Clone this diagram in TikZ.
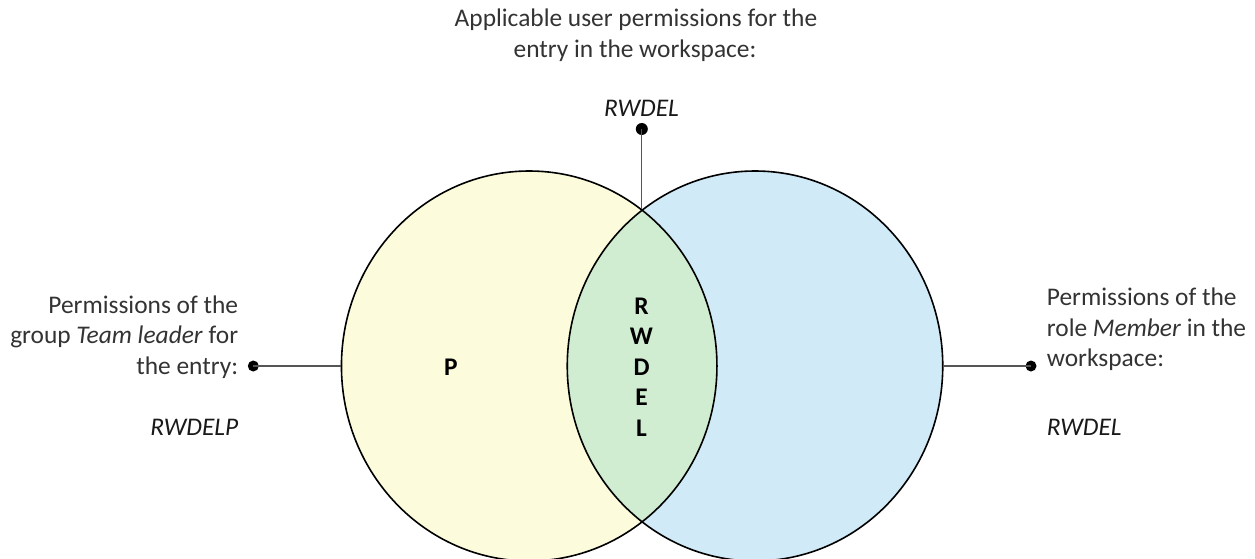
\documentclass[tikz,border=0pt]{standalone}
\usepackage{fontspec}
\setmainfont{Carlito}
\usetikzlibrary{shapes.geometric}
\definecolor{yelcol}{HTML}{FCFCDC}
\definecolor{bluecol}{HTML}{D1EAF7}
\definecolor{greencol}{HTML}{D0EDD2}
\definecolor{labcol}{HTML}{333333}
\definecolor{concol}{HTML}{555555}
\begin{document}
\begin{tikzpicture}[x=1pt,y=-1pt,
  venn/.style={ellipse, minimum width=375.5pt, minimum height=390pt, inner sep=0pt, outer sep=0pt},
  outline/.style={draw=black, line width=1.6pt},
  conn/.style={draw=concol, line width=1.2pt},
  dotnode/.style={circle, fill=black, inner sep=0pt, minimum size=11pt},
  lab/.style={font=\fontsize{25.4}{30}\selectfont, text=labcol, inner sep=0pt},
  perm/.style={font=\fontsize{25.4}{30}\selectfont\itshape, text=black!90, inner sep=0pt},
  letter/.style={font=\fontsize{25.4}{30}\selectfont\bfseries, text=black, inner sep=0pt}]
\useasboundingbox (0,0) rectangle (1255,558);
% ellipses
\node[venn, fill=yelcol] (L) at (529.2,366) {};
\node[venn, fill=bluecol] (R) at (755,366) {};
\begin{scope}
  \clip (L.center) ellipse [x radius=187.75, y radius=195];
  \fill[greencol] (R.center) ellipse [x radius=187.75, y radius=195];
\end{scope}
\draw[outline] (L.center) ellipse [x radius=187.75, y radius=195];
\draw[outline] (R.center) ellipse [x radius=187.75, y radius=195];
% letters
\node[letter] (p) at (451,367) {P};
\node[letter] (r1) at (641.5,306) {R};
\node[letter] (r2) at (641.5,336.5) {W};
\node[letter] (r3) at (641.5,367) {D};
\node[letter] (r4) at (641.5,397.5) {E};
\node[letter] (r5) at (641.5,428) {L};
% top label
\coordinate (top) at (641.8,209.3);
\node[dotnode, minimum size=12pt] (dt) at (641.8,129) {};
\draw[conn] (dt.center) -- (top);
\node[perm, anchor=base] (tp) at (641.5,116.7) {RWDEL};
\node[lab, anchor=base] (t1) at (636,26.7) {Applicable user permissions for the};
\node[lab, anchor=base] (t2) at (635,57.3) {entry in the workspace:};
% left label
\node[dotnode] (dl) at (253.3,366) {};
\draw[conn] (dl.center) -- (L.west);
\node[lab, anchor=base east] (l1) at (238.3,313.3) {Permissions of the};
\node[lab, anchor=base east] (l2) at (238.3,343.5) {group \textit{Team leader} for};
\node[lab, anchor=base east] (l3) at (238.3,374) {the entry:};
\node[perm, anchor=base east] (lp) at (238.5,435) {RWDELP};
% right label
\node[dotnode] (dr) at (1031,366) {};
\draw[conn] (R.east) -- (dr.center);
\node[lab, anchor=base west] (r1l) at (1046.7,305) {Permissions of the};
\node[lab, anchor=base west] (r2l) at (1046.7,336) {role \textit{Member} in the};
\node[lab, anchor=base west] (r3l) at (1046.7,366.7) {workspace:};
\node[perm, anchor=base west] (rp) at (1046.7,435.7) {RWDEL};
\end{tikzpicture}
\end{document}
